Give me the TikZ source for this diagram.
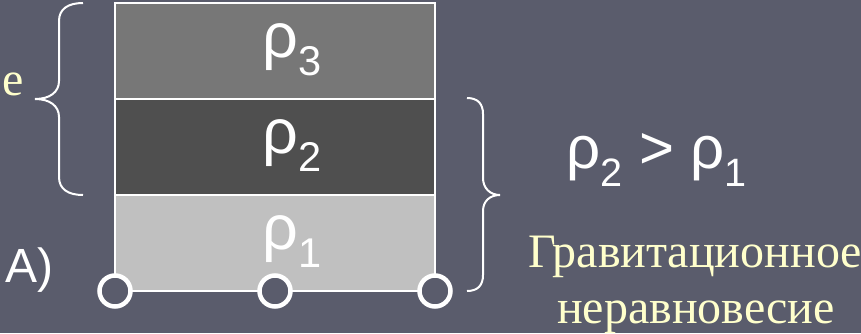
\documentclass[tikz,border=0pt]{standalone}
\usepackage{fontspec}
\setmainfont{Liberation Serif}
\setsansfont{Liberation Sans}
\usetikzlibrary{positioning}
\definecolor{slide}{HTML}{5A5C6C}
\definecolor{cream}{HTML}{FFFFCC}
\definecolor{layer3}{HTML}{777777}
\definecolor{layer2}{HTML}{4F4F4F}
\definecolor{layer1}{HTML}{C0C0C0}
\newcommand\rhosub[1]{\raisebox{-0.3em}{\scalebox{0.66}{#1}}}

\begin{document}
\begin{tikzpicture}[x=1pt, y=-1pt,
    stratum/.style={draw=white, line width=2pt, minimum width=320pt, minimum height=96pt, inner sep=0pt, outer sep=0pt},
    support/.style={circle, draw=white, line width=4.5pt, fill=slide, minimum size=31pt, inner sep=0pt},
    rholabel/.style={font=\sffamily\fontsize{63}{63}\selectfont, text=white, anchor=base west, inner sep=0pt},
    curly/.style={draw=white, line width=2pt},
    note/.style={font=\fontsize{48}{48}\selectfont, text=cream, anchor=base, inner sep=0pt}]
    \useasboundingbox (0,0) rectangle (861,333);
    \fill[slide] (0,0) rectangle (861,333);
    % the three layers, densest in the middle
    \foreach \n/\y/\c in {3/51/layer3, 2/147/layer2, 1/243/layer1}{
      \node[stratum, fill=\c] (l\n) at (275,\y) {};
      \node[rholabel] (r\n) at (262,\y+6) {ρ\rhosub{\n}};
    }
    % supports under the column
    \foreach \a/\n in {south west/1, south/2, south east/3}
      \node[support] (s\n) at (l1.\a) {};
    % braces
    \draw[curly] (83,3) .. controls (68,3) and (59,9) .. (59,21) -- (59,81)
      .. controls (59,92) and (50,99) .. (35,99) .. controls (50,99) and (59,106) .. (59,117)
      -- (59,177) .. controls (59,189) and (68,195) .. (83,195);
    \draw[curly] (467,98) .. controls (478,98) and (483,104) .. (483,114) -- (483,178)
      .. controls (483,188) and (490,195) .. (500,195) .. controls (490,195) and (483,201) .. (483,211)
      -- (483,275) .. controls (483,285) and (478,291) .. (467,291);
    \node[note, anchor=base west] (cut) at (2,95) {е};
    \node[font=\sffamily\fontsize{60}{60}\selectfont, text=white, anchor=base west, inner sep=0pt] (ineq) at (566,168) {ρ\rhosub{2} > ρ\rhosub{1}};
    \node[font=\sffamily\fontsize{48}{48}\selectfont, text=white, anchor=base west, inner sep=0pt] (case) at (5,282) {A)};
    \node[note] (grav) at (695,267) {Гравитационное};
    \node[note] (neq) at (696,323) {неравновесие};
  \end{tikzpicture}
\end{document}
